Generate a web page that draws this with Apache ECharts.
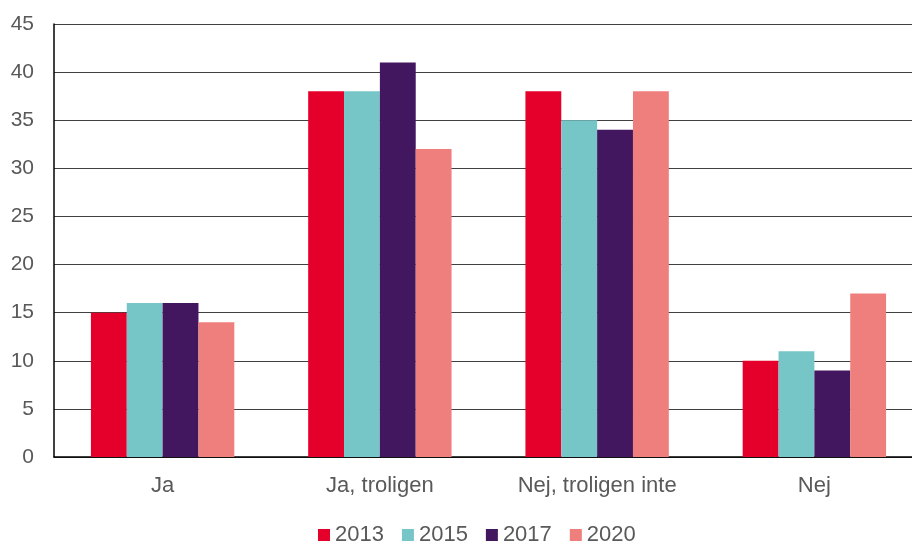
<!DOCTYPE html>
<html>
<head>
<meta charset="utf-8">
<script src="https://cdn.jsdelivr.net/npm/echarts@6/dist/echarts.min.js"></script>
<style>
  html, body { margin: 0; padding: 0; background: #fff; overflow: hidden; }
  #chart { width: 923px; height: 542px; }
</style>
</head>
<body>
<div id="chart"></div>
<script>
// svarsalternativ och år
const categories = ['Ja', 'Ja, troligen', 'Nej, troligen inte', 'Nej'];
const years = ['2013', '2015', '2017', '2020'];
const colors = ['#e4002b', '#76c6c8', '#42175f', '#ef7f7c'];

const v2013 = [15, 38, 38, 10];
const v2015 = [16, 38, 35, 11];
const v2017 = [16, 41, 34, 9];
const v2020 = [14, 32, 38, 17];

const values = [v2013, v2015, v2017, v2020];
const font = 'Liberation Sans, Arial, sans-serif';

// diagrammet är lite bredare än fönstret, högerkanten beskärs som i originalet
const chart = echarts.init(document.getElementById('chart'), null, { renderer: 'canvas' });

chart.setOption({
  animation: false,
  color: colors,
  grid: { left: 54, right: 0, top: 24, bottom: 85 },
  legend: {
    top: 519,
    left: 313,
    itemWidth: 12,
    itemHeight: 12,
    itemGap: 18,
    icon: 'rect',
    textStyle: { color: '#595959', fontSize: 22, fontFamily: font },
    data: years
  },
  xAxis: {
    type: 'category',
    data: categories,
    axisLine: { lineStyle: { color: '#000', width: 1.5 } },
    axisTick: { show: false },
    axisLabel: { color: '#595959', fontSize: 22, fontFamily: font, margin: 18 }
  },
  yAxis: {
    type: 'value',
    min: 0,
    max: 45,
    interval: 5,
    axisLine: { show: true, lineStyle: { color: '#000', width: 1.5 } },
    axisTick: { show: false },
    axisLabel: { color: '#595959', fontSize: 21, fontFamily: font, margin: 20 },
    splitLine: { lineStyle: { color: '#404040', width: 1.2 } }
  },
  series: years.map((y, i) => ({
    name: y,
    type: 'bar',
    data: values[i],
    barGap: '0%',
    barCategoryGap: '34%'
  }))
});
</script>
</body>
</html>
